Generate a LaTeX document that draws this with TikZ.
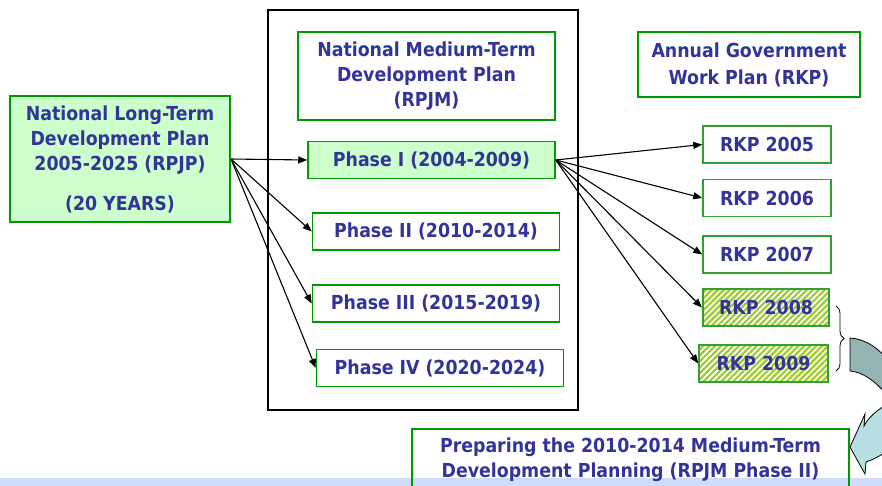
\documentclass[tikz,border=0pt]{standalone}
\usepackage{fontspec}
\setmainfont{DejaVu Sans Condensed}
\usetikzlibrary{arrows.meta,patterns.meta,decorations.pathreplacing}
\definecolor{txtblue}{HTML}{333399}
\definecolor{boxgreen}{HTML}{009900}
\definecolor{rkpgreen}{HTML}{33A033}
\definecolor{lightgreen}{HTML}{CCFFCC}
\definecolor{hatchgreen}{HTML}{9CCC2C}
\definecolor{darkteal}{HTML}{94B3B2}
\definecolor{lightteal}{HTML}{B7DEE3}
\definecolor{stripblue}{HTML}{CFDDFA}
\begin{document}
\begin{tikzpicture}[x=1pt,y=-1pt,
  font=\fontsize{19.3}{25}\selectfont\bfseries,
  box/.style={draw=boxgreen, line width=2pt, text=txtblue, align=center, inner sep=0pt},
  phasebox/.style={box, line width=1.5pt, minimum width=247pt, minimum height=37pt},
  rkpbox/.style={box, draw=rkpgreen, line width=1.5pt, minimum width=128pt, minimum height=37pt},
  hatched/.style={pattern={Lines[angle=45,distance=4.2pt,line width=2.2pt]}, pattern color=hatchgreen},
  arr/.style={-{Triangle[length=9pt,width=7pt]}, line width=1.1pt, black},
  bigframe/.style={draw=black, line width=2.5pt, inner sep=0pt}
]
\useasboundingbox (0,0) rectangle (882,485);
\clip (0,0) rectangle (882,485);

% bottom strip
\fill[stripblue] (0,478) rectangle (882,486);

% big frame
\node[bigframe, minimum width=310pt, minimum height=400pt] (big) at (423,210) {};

% left box
\node[box, fill=lightgreen, minimum width=220pt, minimum height=126pt] (rpjp) at (120,159)
  {National Long-Term\\Development Plan\\2005-2025 (RPJP)\\[15pt](20 YEARS)};

% RPJM header
\node[box, minimum width=257pt, minimum height=88pt] (rpjm) at (426.5,76)
  {National Medium-Term\\Development Plan\\(RPJM)};

% phases
\node[phasebox, fill=lightgreen] (ph1) at (431.5,160) {Phase I (2004-2009)};
\node[phasebox] (ph2) at (436,231.5) {Phase II (2010-2014)};
\node[phasebox] (ph3) at (436,303.5) {Phase III (2015-2019)};
\node[phasebox] (ph4) at (440,368) {Phase IV (2020-2024)};

% annual header
\node[box, minimum width=222pt, minimum height=65pt, font=\fontsize{19.3}{27}\selectfont\bfseries] (annual) at (749,64.5)
  {Annual Government\\Work Plan (RKP)};

% RKP boxes
\node[rkpbox] (rkp5) at (767,144.5) {RKP 2005};
\node[rkpbox] (rkp6) at (767,198) {RKP 2006};
\node[rkpbox] (rkp7) at (767,254.5) {RKP 2007};
\node[rkpbox, hatched, minimum width=126pt] (rkp8) at (766,307.5) {RKP 2008};
\node[rkpbox, hatched, minimum width=129pt] (rkp9) at (763.5,363.5) {RKP 2009};

% arrows
\foreach \t in {ph1,ph2,ph3,ph4} \draw[arr] (rpjp.east) -- (\t.west);
\foreach \t in {rkp5,rkp6,rkp7,rkp8,rkp9} \draw[arr] (ph1.east) -- (\t.west);

% brace
\coordinate (bt) at (836,306);
\coordinate (bb) at (836,371);
\draw[line width=0.8pt, decorate, decoration={brace, amplitude=8pt}] (bt) -- (bb);

% curved arrow
\filldraw[fill=darkteal, draw=black, line width=0.8pt]
  (850,338) .. controls (868,339) and (884,352) .. (895,370) -- (895,400) -- (885,393)
  .. controls (874,380) and (862,372) .. (850,371) -- cycle;
\filldraw[fill=lightteal, draw=black, line width=0.8pt]
  (900,398) .. controls (885,404) and (870,414) .. (864,426) -- (865,414) -- (850,447)
  -- (865,474) -- (866,462) .. controls (878,458) and (890,450) .. (900,440) -- cycle;

% bottom box
\node[box, line width=1.2pt, minimum width=437pt, minimum height=62pt] (prep) at (630.5,460)
  {Preparing the 2010-2014 Medium-Term\\Development Planning (RPJM Phase II)};
\end{tikzpicture}
\end{document}
